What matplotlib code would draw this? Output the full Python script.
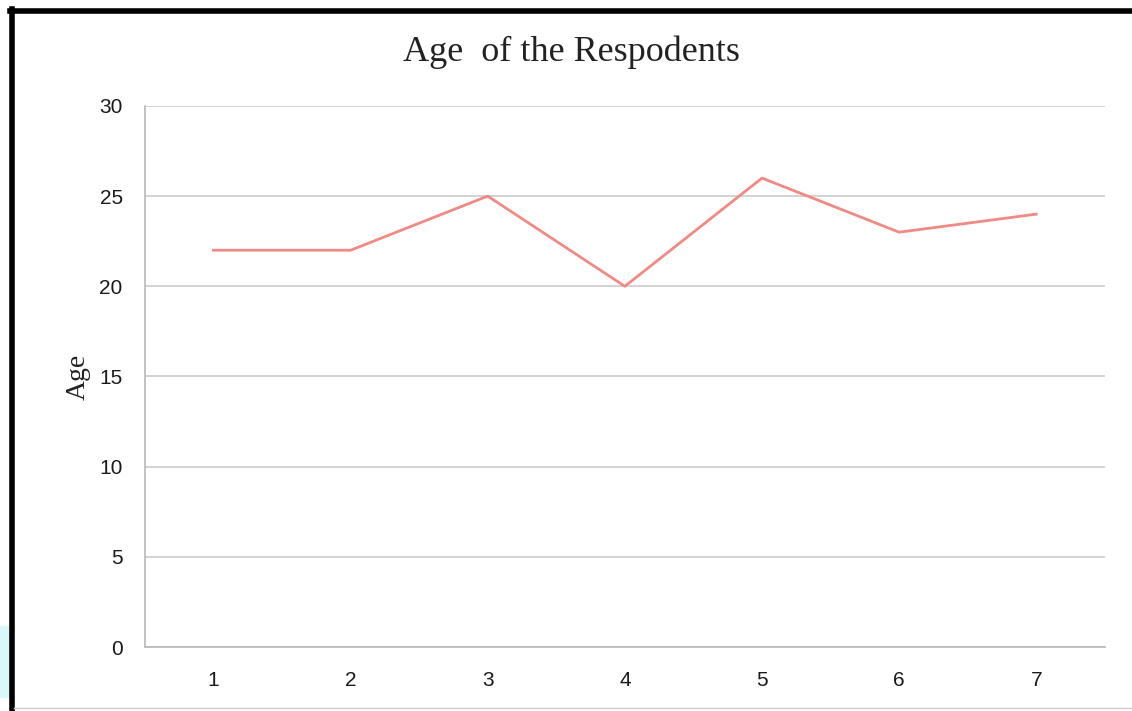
import matplotlib.pyplot as plt
from matplotlib.patches import Rectangle
from matplotlib.lines import Line2D

# data
respondents = [1, 2, 3, 4, 5, 6, 7]
ages = [22, 22, 25, 20, 26, 23, 24]
y_ticks = [0, 5, 10, 15, 20, 25, 30]

fig = plt.figure(figsize=(11.32, 7.11), dpi=100)

# screenshot frame
fig.patches.append(Rectangle((0, 0.02), 0.009, 0.1, transform=fig.transFigure,
                             color='#d8f8fa', zorder=0))
fig.lines.append(Line2D([0.011, 0.011], [0, 0.988], transform=fig.transFigure,
                        color='black', lw=4))
fig.lines.append(Line2D([0.009, 1.0], [0.985, 0.985], transform=fig.transFigure,
                        color='black', lw=4))
fig.lines.append(Line2D([0.012, 1.0], [0.004, 0.004], transform=fig.transFigure,
                        color='#cccccc', lw=1))

ax = fig.add_axes([0.128, 0.090, 0.848, 0.761])
ax.plot(respondents, ages, color='#f08a84', lw=2)

ax.set_xlim(0.5, 7.5)
ax.set_ylim(0, 30)
ax.set_xticks(respondents)
ax.set_yticks(y_ticks)
ax.tick_params(length=0, labelsize=15, colors='#1a1a1a')
ax.tick_params(axis='y', pad=16)
ax.tick_params(axis='x', pad=17)
for lab in ax.get_xticklabels() + ax.get_yticklabels():
    lab.set_family('Liberation Sans')
ax.yaxis.grid(True, color='#cccccc', lw=1.2)
ax.set_axisbelow(True)
for s in ['top', 'right']:
    ax.spines[s].set_visible(False)
for s in ['left', 'bottom']:
    ax.spines[s].set_color('#b8b8b8')
    ax.spines[s].set_linewidth(1.2)

ax.set_ylabel('Age', family='Liberation Serif', fontsize=20, labelpad=6,
              color='#222222')
fig.text(0.505, 0.926, 'Age  of the Respodents', family='Liberation Serif',
         fontsize=26, ha='center', va='center', color='#222222')

fig.savefig('out.png', dpi=100)
